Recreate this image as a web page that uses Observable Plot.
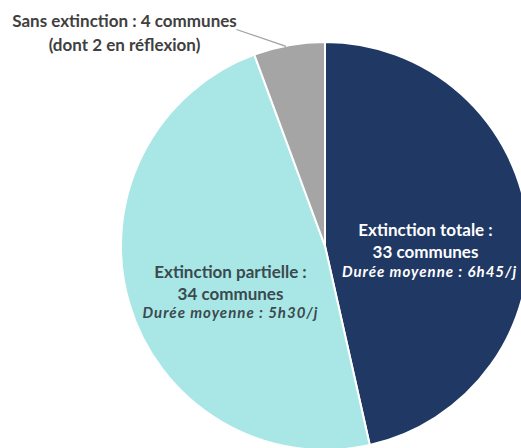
<!DOCTYPE html>
<html><head><meta charset="utf-8">
<script src="https://cdn.jsdelivr.net/npm/d3@7"></script>
<script src="https://cdn.jsdelivr.net/npm/@observablehq/plot@0.6"></script>
<style>body{margin:0;background:#fff} .italic-lbl text{letter-spacing:1px}</style>
</head><body><div id="chart"></div>
<script>
const categories = ["Extinction totale", "Extinction partielle", "Sans extinction"];
const communes = [33, 34, 4];
const dureeMoyenne = ["6h45/j", "5h30/j", null];
const notes = [null, null, "(dont 2 en réflexion)"];
const colors = ["#1f3864", "#a9e7e6", "#a5a5a5"];

const W = 521, H = 448;
const cx = 325, cy = 246, R = 204;
const data = categories.map((c, i) => ({cat: c, n: communes[i], d: dureeMoyenne[i], note: notes[i], color: colors[i]}));
const arcs = d3.pie().sort(null).value(d => d.n)(data);

const pieMark = (index, scales) => {
  const g = d3.create("svg:g");
  const arc = d3.arc().innerRadius(0).outerRadius(R);
  g.selectAll("path").data(arcs).join("path")
    .attr("transform", `translate(${scales.x(cx)},${scales.y(cy)})`)
    .attr("d", arc)
    .attr("fill", d => d.data.color)
    .attr("stroke", "#fff")
    .attr("stroke-width", 2);
  return g.node();
};

function polar(a, r) { return [cx + r * Math.sin(a), cy - r * Math.cos(a)]; }
const [tx, ty] = [cx + 100, cy - 7];
const [px, py] = [cx - 95, cy + 35];

const titleLabels = [
  {x: tx, y: ty, text: `${categories[0]} :\n${communes[0]} communes`, fill: "#ffffff"},
  {x: px, y: py, text: `${categories[1]} :\n${communes[1]} communes`, fill: "#3a4a4f"}
];
const italicLabels = [
  {x: tx + 4, y: ty + 33, text: `Durée moyenne : ${dureeMoyenne[0]}`, fill: "#ffffff"},
  {x: px, y: py + 32, text: `Durée moyenne : ${dureeMoyenne[1]}`, fill: "#3a4a4f"}
];
const gray = arcs[2];
const edge = polar(gray.startAngle + (gray.endAngle - gray.startAngle) * 0.45, R);
const outer = [{x: 124, y: 31, text: `${categories[2]} : ${communes[2]} communes\n${notes[2]}`}];

const chart = Plot.plot({
  width: W, height: H,
  margin: 0,
  x: {domain: [0, W], range: [0, W], axis: null},
  y: {domain: [0, H], range: [0, H], axis: null},
  style: {fontFamily: "Lato, sans-serif", background: "#fff"},
  marks: [
    pieMark,
    Plot.link([{x1: 236, y1: 29, x2: edge[0], y2: edge[1]}], {x1: "x1", y1: "y1", x2: "x2", y2: "y2", stroke: "#a0a0a0", strokeWidth: 1.2}),
    Plot.text(titleLabels, {x: "x", y: "y", text: "text", fill: "fill", fontSize: 17, fontWeight: "bold", lineHeight: 1.3}),
    Plot.text(italicLabels, {x: "x", y: "y", text: "text", fill: "fill", fontSize: 15, fontWeight: "bold", fontStyle: "italic", className: "italic-lbl"}),
    Plot.text(outer, {x: "x", y: "y", text: "text", fill: "#404040", fontSize: 17, fontWeight: "bold", lineHeight: 1.4})
  ]
});
chart.querySelectorAll("g[aria-label='text']").forEach(() => {});
document.getElementById("chart").appendChild(chart);
</script>
</body></html>
